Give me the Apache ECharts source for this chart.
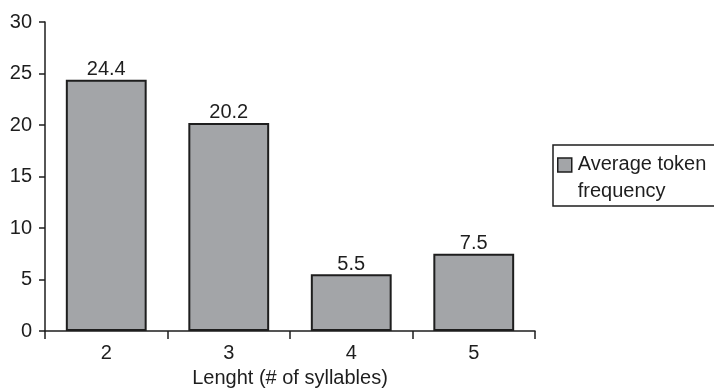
<!DOCTYPE html>
<html>
<head>
<meta charset="utf-8">
<script src="https://cdn.jsdelivr.net/npm/echarts@6/dist/echarts.min.js"></script>
<style>
  html, body { margin: 0; padding: 0; background: #fff; }
  #chart { width: 714px; height: 389px; }
</style>
</head>
<body>
<div id="chart"></div>
<script>
// Syllable lengths and the average token frequency for each
const categories = ['2', '3', '4', '5'];
const avgTokenFrequency = [24.4, 20.2, 5.5, 7.5];
const seriesName = 'Average token\nfrequency';
const axisTitleX = 'Lenght (# of syllables)';

const FONT = '"Liberation Sans", Arial, Helvetica, sans-serif';
const INK = '#1e1e1e';

// Legend swatch: a square at the top of a tall icon box, so it lines up
// with the first line of the two-line legend text.
const LEGEND_ICON = 'path://M0,0L14,0L14,14L0,14Z M0,40L0,40';

const chart = echarts.init(document.getElementById('chart'), null, { renderer: 'canvas' });

chart.setOption({
  animation: false,
  backgroundColor: '#ffffff',
  textStyle: { fontFamily: FONT },
  grid: {
    left: 45, right: 179, top: 22, bottom: 58,
    containLabel: false,
    outerBoundsMode: 'none'
  },
  legend: {
    data: [seriesName],
    left: 553,
    top: 145,
    orient: 'vertical',
    padding: [6, 12, 1, 4],
    itemWidth: 14,
    itemHeight: 40,
    itemGap: 0,
    borderColor: INK,
    borderWidth: 1.5,
    borderRadius: 0,
    backgroundColor: '#ffffff',
    icon: LEGEND_ICON,
    itemStyle: { borderWidth: 1.5, borderColor: INK },
    textStyle: {
      fontFamily: FONT,
      fontSize: 20,
      color: INK,
      lineHeight: 27,
      padding: [0, 0, 0, 1]
    }
  },
  xAxis: {
    type: 'category',
    data: categories,
    boundaryGap: true,
    name: axisTitleX,
    nameLocation: 'middle',
    nameGap: 37,
    nameTextStyle: { fontFamily: FONT, fontSize: 20, color: INK },
    axisLine: { show: true, lineStyle: { color: INK, width: 1.5 } },
    axisTick: { show: true, length: 8, inside: false, lineStyle: { color: INK, width: 1.5 } },
    axisLabel: { fontFamily: FONT, fontSize: 20, color: INK, margin: 12 },
    splitLine: { show: false }
  },
  yAxis: {
    type: 'value',
    min: 0,
    max: 30,
    interval: 5,
    axisLine: { show: true, lineStyle: { color: INK, width: 1.5 } },
    axisTick: { show: true, length: 6, inside: false, lineStyle: { color: INK, width: 1.5 } },
    axisLabel: { fontFamily: FONT, fontSize: 20, color: INK, margin: 13 },
    splitLine: { show: false }
  },
  series: [{
    name: seriesName,
    type: 'bar',
    data: avgTokenFrequency,
    barWidth: '66%',
    itemStyle: { color: '#a3a5a8', borderColor: INK, borderWidth: 2 },
    label: {
      show: true,
      position: 'top',
      distance: 0,
      fontFamily: FONT,
      fontSize: 20,
      color: INK,
      formatter: p => String(p.value)
    }
  }]
});
</script>
</body>
</html>
